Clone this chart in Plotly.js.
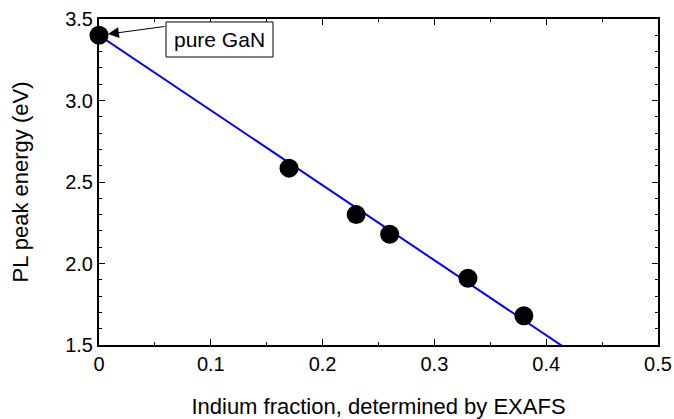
<!DOCTYPE html>
<html>
<head>
<meta charset="utf-8">
<script src="https://cdn.plot.ly/plotly-3.0.1.min.js"></script>
<style>html,body{margin:0;padding:0;background:#fff;}#chart{width:674px;height:419px;}</style>
</head>
<body>
<div id="chart"></div>
<script>
// Data
const indiumFraction = [0, 0.17, 0.23, 0.26, 0.33, 0.38];
const plPeakEnergy   = [3.40, 2.585, 2.30, 2.18, 1.91, 1.68];
// Linear fit line (endpoints; clipped by axis range)
const fitX = [0, 0.5];
const fitY = [3.40, 1.10];
const xTickVals = [0, 0.1, 0.2, 0.3, 0.4, 0.5];
const xTickText = ['0', '0.1', '0.2', '0.3', '0.4', '0.5'];
const yTickVals = [1.5, 2.0, 2.5, 3.0, 3.5];
const yTickText = ['1.5', '2.0', '2.5', '3.0', '3.5'];
const annotationText = 'pure GaN';

const font = 'Liberation Sans, Arial, Helvetica, sans-serif';

const traces = [
  {
    x: fitX, y: fitY, mode: 'lines', type: 'scatter',
    line: {color: '#0000ff', width: 2}, hoverinfo: 'skip'
  },
  {
    x: indiumFraction, y: plPeakEnergy, mode: 'markers', type: 'scatter',
    marker: {color: '#000', size: 19}, cliponaxis: false
  }
];

const layout = {
  width: 674, height: 419,
  margin: {l: 99, r: 16, t: 19, b: 74},
  paper_bgcolor: '#fff', plot_bgcolor: '#fff',
  showlegend: false,
  font: {family: font, size: 20, color: '#000'},
  xaxis: {
    range: [0, 0.5], tickmode: 'array', tickvals: xTickVals, ticktext: xTickText,
    showgrid: false, zeroline: false,
    showline: true, linecolor: '#000', linewidth: 2,
    mirror: 'ticks', ticks: 'inside', ticklen: 6, tickwidth: 1, tickcolor: '#000',
    minor: {dtick: 0.05, tick0: 0, ticks: 'inside', ticklen: 3, tickwidth: 1, tickcolor: '#000', showgrid: false},
    tickfont: {family: font, size: 20},
    title: {text: 'Indium fraction, determined by EXAFS', font: {family: font, size: 22}, standoff: 28}
  },
  yaxis: {
    range: [1.5, 3.5], tickmode: 'array', tickvals: yTickVals, ticktext: yTickText,
    showgrid: false, zeroline: false,
    showline: true, linecolor: '#000', linewidth: 2,
    mirror: 'ticks', ticks: 'inside', ticklen: 6, tickwidth: 1, tickcolor: '#000',
    minor: {dtick: 0.1, tick0: 1.5, ticks: 'inside', ticklen: 3, tickwidth: 1, tickcolor: '#000', showgrid: false},
    tickfont: {family: font, size: 20},
    ticklabelstandoff: 0,
    title: {text: 'PL peak energy (eV)', font: {family: font, size: 22}, standoff: 30}
  },
  shapes: [
    {type: 'rect', xref: 'paper', yref: 'paper', x0: 0.1199, x1: 0.3113, y0: 0.8834, y1: 0.9908,
     line: {color: '#000', width: 1}, fillcolor: '#fff', layer: 'above'}
  ],
  annotations: [
    {x: indiumFraction[0], y: plPeakEnergy[0], xref: 'x', yref: 'y', text: '',
     showarrow: true, ax: 67, ay: -9, arrowhead: 2, arrowsize: 2.2, arrowwidth: 1, arrowcolor: '#000', standoff: 9},
    {x: 0.2156, y: 0.9371, xref: 'paper', yref: 'paper', text: annotationText, showarrow: false,
     xanchor: 'center', yanchor: 'middle', font: {family: font, size: 21, color: '#000'}}
  ]
};

Plotly.newPlot('chart', traces, layout, {displayModeBar: false, staticPlot: true});
</script>
</body>
</html>
